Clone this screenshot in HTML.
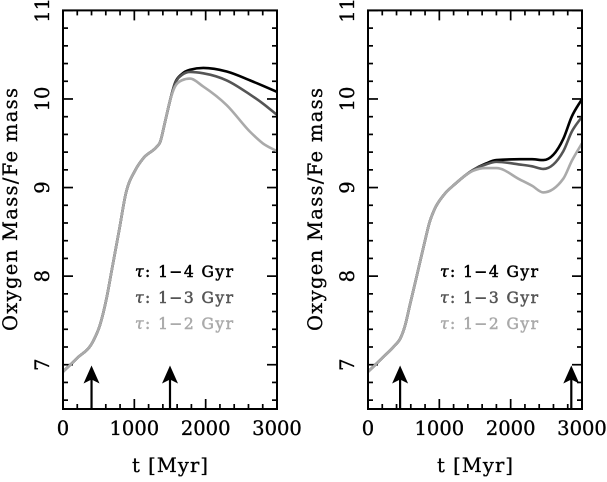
<!DOCTYPE html>
<html>
<head>
<meta charset="utf-8">
<title>Oxygen to iron mass ratio</title>
<style>
html,body{margin:0;padding:0;background:#fff;width:607px;height:482px;overflow:hidden}
svg{display:block}
text{font-family:"DejaVu Serif","Liberation Serif",serif;fill:#000}
.tick{font-size:19.5px;stroke:#000;stroke-width:.35px}
.title{font-size:19.5px;stroke:#000;stroke-width:.3px}
.legend{font-size:15.5px;stroke:#000;stroke-width:.5px}
.mid{fill:#555;stroke:#555}
.pale{fill:#aaa;stroke:#aaa}
</style>
</head>
<body>
<svg id="chart" width="607" height="482" viewBox="0 0 607 482" xmlns="http://www.w3.org/2000/svg">
  <g id="panel-left"></g>
  <g id="panel-right"></g>

  <text class="title" transform="translate(17,331) rotate(-90)" textLength="243" lengthAdjust="spacing">Oxygen Mass/Fe mass</text>
  <text class="title" x="132" y="472" textLength="76" lengthAdjust="spacing">t [Myr]</text>
  <text class="legend" x="135" y="277" textLength="98" lengthAdjust="spacing"><tspan font-style="italic">τ</tspan>: 1−4 Gyr</text>
  <text class="legend mid" x="135" y="303" textLength="98" lengthAdjust="spacing"><tspan font-style="italic">τ</tspan>: 1−3 Gyr</text>
  <text class="legend pale" x="135" y="329" textLength="98" lengthAdjust="spacing"><tspan font-style="italic">τ</tspan>: 1−2 Gyr</text>

  <text class="title" transform="translate(322,331) rotate(-90)" textLength="243" lengthAdjust="spacing">Oxygen Mass/Fe mass</text>
  <text class="title" x="437" y="472" textLength="76" lengthAdjust="spacing">t [Myr]</text>
  <text class="legend" x="440" y="277" textLength="98" lengthAdjust="spacing"><tspan font-style="italic">τ</tspan>: 1−4 Gyr</text>
  <text class="legend mid" x="440" y="303" textLength="98" lengthAdjust="spacing"><tspan font-style="italic">τ</tspan>: 1−3 Gyr</text>
  <text class="legend pale" x="440" y="329" textLength="98" lengthAdjust="spacing"><tspan font-style="italic">τ</tspan>: 1−2 Gyr</text>
</svg>
<script>
// Tick values and labels
const xMajorTicks = [0, 1000, 2000, 3000];
const xMinorTicks = [200, 400, 600, 800, 1200, 1400, 1600, 1800, 2200, 2400, 2600, 2800];
const yMajorTicks = [7, 8, 9, 10, 11];
const yMinorTicks = [6.6, 6.8, 7.2, 7.4, 7.6, 7.8, 8.2, 8.4, 8.6, 8.8, 9.2, 9.4, 9.6, 9.8, 10.2, 10.4, 10.6, 10.8];

// Left panel: shared early evolution, then three diverging tracks
const leftCommonTimes = [0, 192, 425, 519, 613, 682, 790, 880, 1009, 1125, 1313, 1360, 1430, 1500];
const leftCommonValues = [6.92, 7.07, 7.27, 7.45, 7.76, 8.06, 8.53, 8.93, 9.19, 9.33, 9.46, 9.51, 9.74, 9.98];
const leftTailTimes = [1570, 1664, 1780, 1967, 2295, 2622, 2800, 3000];
const leftTau14 = [10.18, 10.28, 10.33, 10.35, 10.31, 10.21, 10.15, 10.08];
const leftTau13 = [10.17, 10.27, 10.305, 10.29, 10.21, 10.05, 9.95, 9.82];
const leftTau12 = [10.14, 10.21, 10.23, 10.14, 9.93, 9.63, 9.50, 9.41];
const leftArrowTimes = [400, 1500];

// Right panel
const rightCommonTimes = [0, 192, 379, 449, 519, 589, 683, 799, 860, 930, 1056, 1220];
const rightCommonValues = [6.92, 7.07, 7.22, 7.29, 7.44, 7.68, 8.00, 8.40, 8.60, 8.75, 8.91, 9.04];
const rightTailTimes = [1476, 1650, 1800, 2130, 2300, 2458, 2738, 2856, 3000];
const rightTau14 = [9.20, 9.27, 9.31, 9.32, 9.32, 9.31, 9.55, 9.80, 10.0];
const rightTau13 = [9.20, 9.26, 9.29, 9.26, 9.24, 9.21, 9.41, 9.63, 9.80];
const rightTau12 = [9.19, 9.22, 9.22, 9.09, 9.02, 8.945, 9.10, 9.30, 9.50];
const rightArrowTimes = [450, 2850];

const SVGNS = 'http://www.w3.org/2000/svg';
const plotTop = 10.4, plotBottom = 409, plotWidth = 214;
const yMin = 6.5, yMax = 11, xMax = 3000;

function yScale(v) { return plotBottom - (v - yMin) / (yMax - yMin) * (plotBottom - plotTop); }

function make(parent, tag, attrs) {
  const el = document.createElementNS(SVGNS, tag);
  for (const k in attrs) el.setAttribute(k, attrs[k]);
  parent.appendChild(el);
  return el;
}

function smoothPath(xs, ys) {
  const n = xs.length;
  const secant = [];
  for (let i = 0; i < n - 1; i++) secant.push((ys[i + 1] - ys[i]) / (xs[i + 1] - xs[i]));
  const slope = [secant[0]];
  for (let i = 1; i < n - 1; i++) {
    const a = secant[i - 1], b = secant[i];
    if (a * b <= 0) { slope.push(0); continue; }
    const ha = xs[i] - xs[i - 1], hb = xs[i + 1] - xs[i];
    const central = (a * hb + b * ha) / (ha + hb);
    const limit = 2 * Math.min(Math.abs(a), Math.abs(b));
    slope.push(Math.sign(central) * Math.min(Math.abs(central), limit));
  }
  slope.push(secant[n - 2]);
  let d = 'M' + xs[0].toFixed(2) + ' ' + ys[0].toFixed(2);
  for (let i = 0; i < n - 1; i++) {
    const h = (xs[i + 1] - xs[i]) / 3;
    d += ' C' + (xs[i] + h).toFixed(2) + ' ' + (ys[i] + slope[i] * h).toFixed(2) +
         ' ' + (xs[i + 1] - h).toFixed(2) + ' ' + (ys[i + 1] - slope[i + 1] * h).toFixed(2) +
         ' ' + xs[i + 1].toFixed(2) + ' ' + ys[i + 1].toFixed(2);
  }
  return d;
}

function drawPanel(group, left, prefix, commonT, commonV, tailT, series, arrows) {
  const xScale = function (t) { return left + t / xMax * plotWidth; };
  const right = left + plotWidth;

  const tickPath = function (x1, y1, x2, y2, name) {
    const el = make(group, 'line', { x1: x1, y1: y1, x2: x2, y2: y2, stroke: '#000', 'stroke-width': 1.7 });
    
    
  };

  xMajorTicks.concat(xMinorTicks).forEach(function (t) {
    const len = xMajorTicks.indexOf(t) >= 0 ? 10 : 5;
    const x = xScale(t);
    tickPath(x, plotBottom, x, plotBottom - len, prefix + '-x-tick-bottom');
    tickPath(x, plotTop, x, plotTop + len, prefix + '-x-tick-top');
  });
  yMajorTicks.concat(yMinorTicks).forEach(function (v) {
    const len = yMajorTicks.indexOf(v) >= 0 ? 10 : 5;
    const y = yScale(v);
    tickPath(left, y, left + len, y, prefix + '-y-tick-left');
    tickPath(right, y, right - len, y, prefix + '-y-tick-right');
  });

  xMajorTicks.forEach(function (t) {
    const el = make(group, 'text', { x: xScale(t), y: 435, 'text-anchor': 'middle', 'class': 'tick' });
    el.textContent = String(t);
    
    
  });
  yMajorTicks.forEach(function (v) {
    const y = yScale(v);
    const el = make(group, 'text', { transform: 'translate(' + (left - 14) + ',' + y + ') rotate(-90)', 'text-anchor': 'middle', 'class': 'tick' });
    el.textContent = String(v);
    
    
  });

  series.forEach(function (s) {
    const ts = commonT.concat(tailT);
    const vs = commonV.concat(s.values);
    const el = make(group, 'path', {
      d: smoothPath(ts.map(xScale), vs.map(yScale)),
      fill: 'none', stroke: s.color, 'stroke-width': 2.6, 'stroke-linejoin': 'round'
    });
    
    
  });

  arrows.forEach(function (t) {
    const x = xScale(t);
    const tip = 365.5;
    const stem = make(group, 'line', { x1: x, y1: plotBottom, x2: x, y2: tip + 12, stroke: '#000', 'stroke-width': 2.2 });
    
    
    const head = make(group, 'polygon', {
      points: x + ',' + tip + ' ' + (x + 8) + ',' + (tip + 18) + ' ' + x + ',' + (tip + 14) + ' ' + (x - 8) + ',' + (tip + 18),
      fill: '#000'
    });
    
    
  });

  const frame = make(group, 'rect', { x: left, y: plotTop, width: plotWidth, height: plotBottom - plotTop, fill: 'none', stroke: '#000', 'stroke-width': 2 });
  
  
}

drawPanel(document.getElementById('panel-left'), 63, 'left',
  leftCommonTimes, leftCommonValues, leftTailTimes,
  [{ name: 'tau-1-4', color: '#000', values: leftTau14 },
   { name: 'tau-1-3', color: '#555', values: leftTau13 },
   { name: 'tau-1-2', color: '#aaa', values: leftTau12 }],
  leftArrowTimes);

drawPanel(document.getElementById('panel-right'), 368, 'right',
  rightCommonTimes, rightCommonValues, rightTailTimes,
  [{ name: 'tau-1-4', color: '#000', values: rightTau14 },
   { name: 'tau-1-3', color: '#555', values: rightTau13 },
   { name: 'tau-1-2', color: '#aaa', values: rightTau12 }],
  rightArrowTimes);
</script>
</body>
</html>
